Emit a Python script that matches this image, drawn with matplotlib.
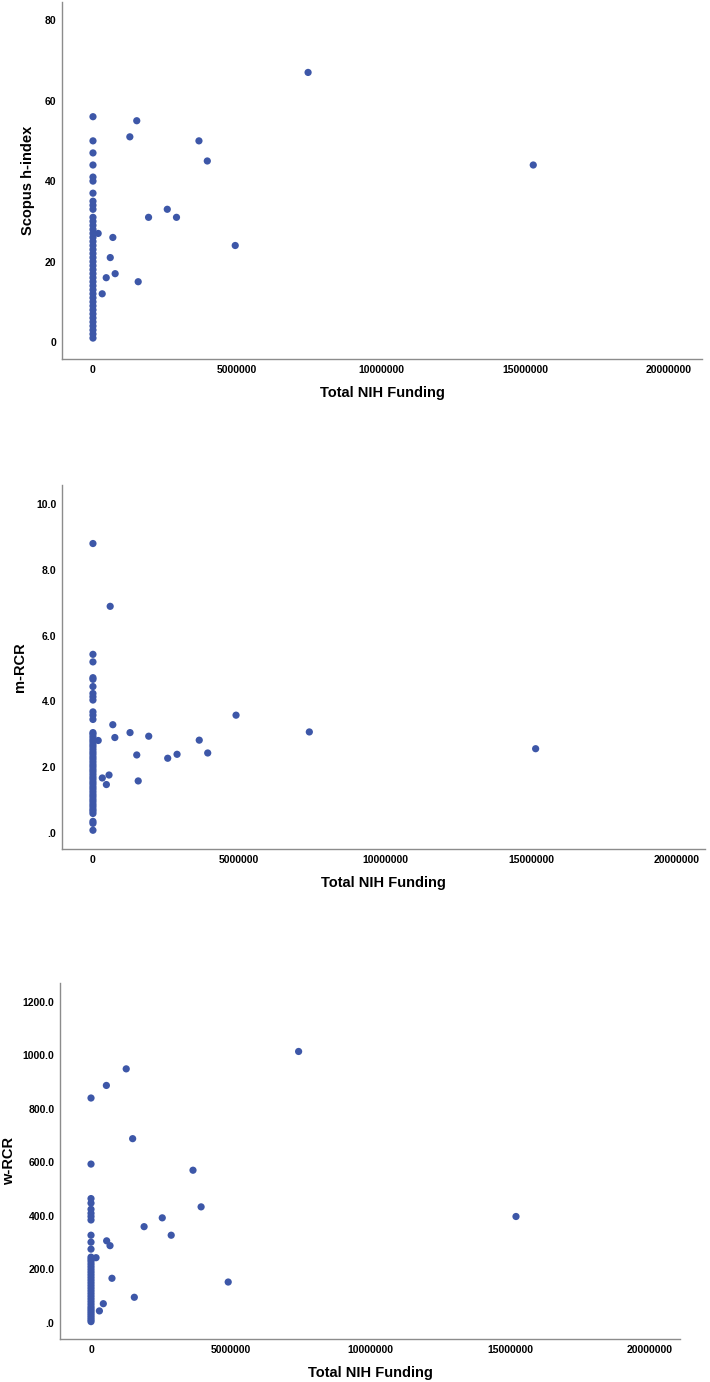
import matplotlib
matplotlib.use("Agg")
import matplotlib.pyplot as plt
from matplotlib.ticker import FuncFormatter

# ---------------- data ----------------
# Panel 1: Scopus h-index
h_zero_funding = [1, 2, 3, 4, 5, 6, 7, 8, 9, 10, 11, 12, 13, 14, 15, 16, 17, 18, 19, 20,
                  21, 22, 23, 24, 25, 26, 27, 28, 29, 30, 31, 33, 34, 35, 37, 40, 41, 44,
                  47, 50, 56]
h_funding = [180000, 320000, 460000, 600000, 690000, 770000, 1280000, 1520000, 1570000,
             1930000, 2580000, 2900000, 3680000, 3970000, 4940000, 7470000, 15290000]
h_funded = [27, 12, 16, 21, 26, 17, 51, 55, 15, 31, 33, 31, 50, 45, 24, 67, 44]

# Panel 2: m-RCR
m_zero_funding = [0.08, 0.29, 0.35, 0.59, 0.66, 0.72, 0.80, 0.87, 0.95, 1.02, 1.10, 1.17,
                  1.25, 1.33, 1.40, 1.48, 1.55, 1.63, 1.70, 1.78, 1.86, 1.93, 2.01, 2.08,
                  2.16, 2.24, 2.31, 2.39, 2.46, 2.54, 2.62, 2.69, 2.77, 2.84, 2.92, 3.00,
                  3.05, 3.45, 3.58, 3.68, 4.04, 4.14, 4.24, 4.45, 4.67, 4.72, 5.20, 5.43,
                  8.80]
m_funding = [180000, 320000, 460000, 550000, 590000, 680000, 750000, 1270000, 1500000,
             1550000, 1910000, 2560000, 2880000, 3640000, 3930000, 4900000, 7410000,
             15160000]
m_funded = [2.81, 1.67, 1.47, 1.76, 6.89, 3.29, 2.90, 3.05, 2.37, 1.58, 2.94, 2.27, 2.39,
            2.82, 2.43, 3.58, 3.07, 2.56]

# Panel 3: w-RCR
w_zero_funding = [5, 12, 20, 28, 36, 44, 52, 60, 70, 80, 90, 100, 110, 120, 130, 140, 150,
                  160, 170, 180, 190, 200, 210, 220, 230, 238, 246, 276, 302, 328, 385,
                  398, 410, 425, 448, 465, 594, 841]
w_funding = [180000, 300000, 440000, 550000, 560000, 680000, 750000, 1260000, 1490000,
             1550000, 1900000, 2550000, 2870000, 3650000, 3940000, 4910000, 7430000,
             15210000]
w_funded = [244, 45, 72, 888, 307, 289, 167, 950, 689, 96, 360, 393, 328, 571, 434, 153,
            1015, 398]

x_ticks = [0, 5000000, 10000000, 15000000, 20000000]
x_label = "Total NIH Funding"

panels = [
    dict(zero=h_zero_funding, fx=h_funding, fy=h_funded, ylabel="Scopus h-index",
         yticks=[0, 20, 40, 60, 80], yfmt="{:.0f}",
         rect=[62 / 710, 1023 / 1382, 640 / 710, 357 / 1382],
         xlim=(-1076000, 21150000), ylim=(-4.2, 84.5), ylab_x=-0.053, xlab_y=-0.094),
    dict(zero=m_zero_funding, fx=m_funding, fy=m_funded, ylabel="m-RCR",
         yticks=[0, 2, 4, 6, 8, 10], yfmt="{:.1f}",
         rect=[62 / 710, 533 / 1382, 643 / 710, 364 / 1382],
         xlim=(-1060000, 20960000), ylim=(-0.49, 10.58), ylab_x=-0.065, xlab_y=-0.094),
    dict(zero=w_zero_funding, fx=w_funding, fy=w_funded, ylabel="w-RCR",
         yticks=[0, 200, 400, 600, 800, 1000, 1200], yfmt="{:.1f}",
         rect=[60 / 710, 43 / 1382, 620 / 710, 356 / 1382],
         xlim=(-1110000, 21080000), ylim=(-60, 1271), ylab_x=-0.082, xlab_y=-0.095),
]

plt.rcParams['font.family'] = ['Liberation Sans', 'DejaVu Sans']
point_color = "#3d57a8"
spine_color = "#8c8c8c"

fig = plt.figure(figsize=(7.10, 13.82), dpi=100)

def fmt_factory(f):
    def fmt(v, pos):
        s = f.format(v)
        if s.startswith("0.") and f != "{:.0f}":
            s = s[1:]
        return s
    return fmt

for p in panels:
    ax = fig.add_axes(p["rect"])
    ax.scatter([0] * len(p["zero"]), p["zero"], s=27, color=point_color,
               edgecolors="none", zorder=3)
    ax.scatter(p["fx"], p["fy"], s=27, color=point_color, edgecolors="none", zorder=3)
    ax.set_xlim(*p["xlim"])
    ax.set_ylim(*p["ylim"])
    ax.set_xticks(x_ticks)
    ax.set_xticklabels([str(t) for t in x_ticks])
    ax.set_yticks(p["yticks"])
    ax.yaxis.set_major_formatter(FuncFormatter(fmt_factory(p["yfmt"])))
    for side in ("top", "right"):
        ax.spines[side].set_visible(False)
    for side in ("left", "bottom"):
        ax.spines[side].set_color(spine_color)
        ax.spines[side].set_linewidth(1.0)
    ax.tick_params(axis="both", length=0, labelsize=7.5, colors="black")
    ax.tick_params(axis="x", pad=4.5)
    ax.tick_params(axis="y", pad=4)
    for lab in ax.get_xticklabels() + ax.get_yticklabels():
        lab.set_fontweight("bold")
    ax.set_xlabel(x_label, fontsize=10.5, fontweight="bold")
    ax.set_ylabel(p["ylabel"], fontsize=10.5, fontweight="bold")
    ax.xaxis.set_label_coords(0.5, p["xlab_y"])
    ax.xaxis.label.set_va("center")
    ax.yaxis.set_label_coords(p["ylab_x"], 0.5)
    ax.yaxis.label.set_va("center")

fig.savefig("out.png", dpi=100, facecolor="white")
